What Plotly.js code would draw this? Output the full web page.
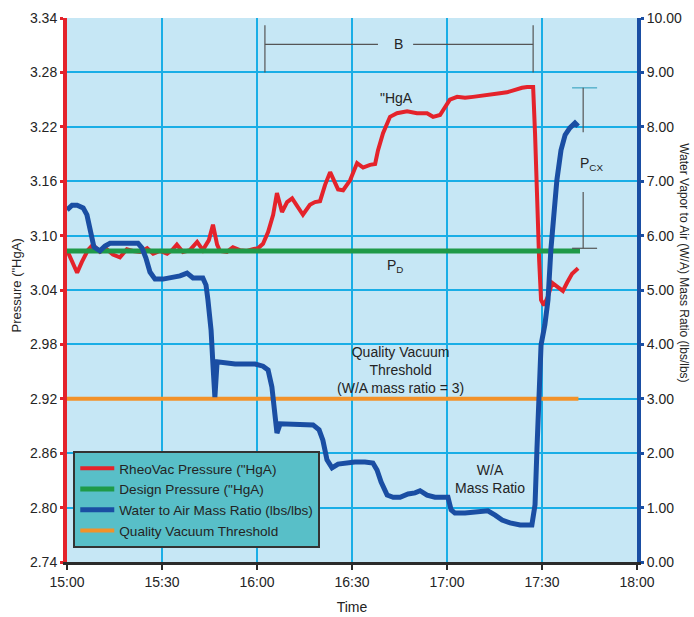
<!DOCTYPE html>
<html>
<head>
<meta charset="utf-8">
<script src="https://cdn.plot.ly/plotly-3.0.1.min.js"></script>
<style>
html,body{margin:0;padding:0;background:#fff;}
#chart{width:694px;height:617px;}
</style>
</head>
<body>
<div id="chart"></div>
<script>
// ---- Data (minutes after 15:00) ----
var pressureTime = [0,1.6,3.2,4.7,6.6,8.2,10.4,12.6,14.5,16.7,18.9,20.8,23.1,25.3,27.2,29.4,31.6,33.2,34.7,36.6,38.8,41.1,42.9,44.8,46.1,47.4,48.3,50.5,52.4,54.6,56.8,58.7,60.3,61.9,63.5,65.1,66.3,67.9,69.5,71.1,72.6,74.5,76.7,78.3,79.9,81.5,83.1,84.3,85.6,87.2,89.4,91.6,93.5,95.7,97.3,98.2,99.8,102.0,104.2,107.4,110.5,113.7,115.6,117.8,119.4,120.9,123.2,125.7,128.2,131.1,133.6,136.7,138.9,141.5,143.7,145.3,147.2,147.8,148.4,149.1,149.7,150.6,151.9,153.2,155.1,156.6,157.9,159.5,161.4];
var pressureVal = [3.084,3.071,3.059,3.071,3.084,3.090,3.082,3.085,3.079,3.076,3.085,3.083,3.082,3.086,3.080,3.083,3.080,3.084,3.090,3.082,3.084,3.093,3.084,3.095,3.112,3.090,3.083,3.082,3.087,3.084,3.083,3.085,3.086,3.091,3.104,3.123,3.147,3.126,3.137,3.141,3.133,3.123,3.134,3.137,3.138,3.156,3.170,3.161,3.151,3.150,3.161,3.180,3.175,3.178,3.179,3.194,3.213,3.231,3.235,3.237,3.235,3.235,3.231,3.233,3.241,3.250,3.253,3.252,3.253,3.254,3.255,3.257,3.258,3.261,3.263,3.264,3.264,3.213,3.139,3.073,3.029,3.023,3.033,3.048,3.043,3.039,3.048,3.058,3.064];

var designTime = [0,162];
var designVal = [3.083,3.083];

var ratioTime = [0,1.6,3.2,5.1,6.3,7.3,8.5,10.4,12.0,13.6,16.7,19.9,22.4,23.7,24.9,26.2,27.8,30.3,32.5,35.7,37.9,39.8,42.9,43.9,44.5,45.5,46.1,46.7,47.4,49.9,53.1,56.2,59.4,61.9,63.5,64.7,65.7,66.3,67.3,69.5,72.0,75.2,77.7,79.6,80.8,82.1,83.7,85.6,87.8,90.9,94.1,96.6,97.9,99.2,101.1,103.0,105.2,107.7,109.9,111.5,113.7,116.2,118.7,120.3,121.3,122.5,125.7,128.8,132.9,135.2,137.4,139.9,143.1,146.8,147.8,148.4,149.1,149.7,150.9,151.9,152.8,153.8,154.7,156.0,157.3,158.8,160.4,161.4];
var ratioVal = [6.47,6.56,6.56,6.51,6.38,6.14,5.79,5.72,5.81,5.86,5.86,5.88,5.86,5.77,5.59,5.33,5.20,5.20,5.22,5.26,5.31,5.22,5.22,5.09,4.82,4.26,3.62,3.03,3.68,3.66,3.64,3.64,3.64,3.60,3.53,3.22,2.79,2.37,2.54,2.54,2.52,2.54,2.52,2.43,2.24,1.88,1.73,1.80,1.82,1.84,1.84,1.82,1.69,1.47,1.23,1.19,1.19,1.25,1.27,1.31,1.23,1.19,1.19,1.19,0.96,0.90,0.90,0.92,0.94,0.86,0.77,0.72,0.68,0.68,1.05,2.06,3.16,3.99,4.36,4.82,5.74,6.47,7.02,7.57,7.85,7.98,8.07,8.01];

var thresholdTime = [0,161.5];
var thresholdVal = [3,3];

var xTickVals = [0,30,60,90,120,150,180];
var xTickText = ["15:00","15:30","16:00","16:30","17:00","17:30","18:00"];
var leftTickVals = [2.74,2.80,2.86,2.92,2.98,3.04,3.10,3.16,3.22,3.28,3.34];
var rightTickVals = [0,1,2,3,4,5,6,7,8,9,10];

var seriesNames = ['RheoVac Pressure ("HgA)','Design Pressure ("HgA)','Water to Air Mass Ratio (lbs/lbs)','Quality Vacuum Threshold'];

var FONT = '"Liberation Sans", Arial, sans-serif';
var TXT = '#242424';
var RED = '#e4232b', GREEN = '#1f9a48', BLUE = '#1a4ea3', ORANGE = '#f39229';
var GRID = '#19aee6', BRACKET = '#555555';

var traces = [
  {x: pressureTime, y: pressureVal, name: seriesNames[0], type:'scatter', mode:'lines',
   line:{color:RED, width:4}, yaxis:'y', legendrank:1},
  {x: designTime, y: designVal, name: seriesNames[1], type:'scatter', mode:'lines',
   line:{color:GREEN, width:5}, yaxis:'y', legendrank:2},
  {x: thresholdTime, y: thresholdVal, name: seriesNames[3], type:'scatter', mode:'lines',
   line:{color:ORANGE, width:4}, yaxis:'y2', legendrank:4},
  {x: ratioTime, y: ratioVal, name: seriesNames[2], type:'scatter', mode:'lines',
   line:{color:BLUE, width:5}, yaxis:'y2', legendrank:3}
];

var annFont = {family: FONT, size: 14, color: TXT};
var layout = {
  width: 694, height: 617,
  margin: {l:67, r:57, t:18, b:55},
  paper_bgcolor: '#ffffff',
  plot_bgcolor: '#c6e7f5',
  showlegend: true,
  legend: {x:0.011, y:0.204, xanchor:'left', yanchor:'top',
    bgcolor:'#58bfc8', bordercolor:'#333333', borderwidth:2,
    font:{family: FONT, size:13.6, color:TXT}, itemwidth:34, tracegroupgap:0},
  xaxis: {range:[0,180], tickvals:xTickVals, ticktext:xTickText,
    showgrid:true, gridcolor:GRID, gridwidth:2, zeroline:false,
    showline:true, linecolor:'#2b2b2b', linewidth:3,
    ticks:'outside', ticklen:5, tickwidth:2, tickcolor:'#2b2b2b',
    tickfont:{family:FONT, size:14, color:TXT},
    title:{text:'Time', font:{family:FONT, size:14, color:TXT}, standoff:14}},
  yaxis: {range:[2.74,3.34], tickvals:leftTickVals, tickformat:'.2f',
    showgrid:true, gridcolor:GRID, gridwidth:2, zeroline:false,
    showline:true, linecolor:RED, linewidth:4,
    ticks:'outside', ticklen:3, tickwidth:3, tickcolor:RED,
    tickfont:{family:FONT, size:14, color:TXT}},
  yaxis2: {range:[0,10], tickvals:rightTickVals, tickformat:'.2f',
    overlaying:'y', side:'right', showgrid:false, zeroline:false,
    showline:true, linecolor:BLUE, linewidth:4,
    ticks:'outside', ticklen:3, tickwidth:3, tickcolor:BLUE,
    tickfont:{family:FONT, size:14, color:TXT}},
  shapes: [
    // B bracket
    {type:'line', xref:'x', yref:'y', x0:62.5, x1:62.5, y0:3.332, y1:3.280, line:{color:BRACKET, width:1.2}},
    {type:'line', xref:'x', yref:'y', x0:62.5, x1:98.2, y0:3.311, y1:3.311, line:{color:BRACKET, width:1.2}},
    {type:'line', xref:'x', yref:'y', x0:109.3, x1:147.2, y0:3.311, y1:3.311, line:{color:BRACKET, width:1.2}},
    {type:'line', xref:'x', yref:'y', x0:147.2, x1:147.2, y0:3.332, y1:3.280, line:{color:BRACKET, width:1.2}},
    // P_CX bracket
    {type:'line', xref:'x', yref:'y', x0:159.5, x1:167.4, y0:3.263, y1:3.263, line:{color:'#5ab4cc', width:1.5}},
    {type:'line', xref:'x', yref:'y', x0:163, x1:163, y0:3.263, y1:3.214, line:{color:BRACKET, width:1.2}},
    {type:'line', xref:'x', yref:'y', x0:163, x1:163, y0:3.148, y1:3.086, line:{color:BRACKET, width:1.2}},
    {type:'line', xref:'x', yref:'y', x0:159.5, x1:167.4, y0:3.086, y1:3.086, line:{color:BRACKET, width:1.2}}
  ],
  annotations: [
    {xref:'x', yref:'y', x:104.8, y:3.311, text:'B', showarrow:false, font:annFont},
    {xref:'x', yref:'y', x:104.2, y:3.252, text:'"HgA', showarrow:false, font:annFont},
    {xref:'x', yref:'y', x:165.5, y:3.179, text:'P<sub>CX</sub>', showarrow:false, font:annFont},
    {xref:'x', yref:'y', x:103.6, y:3.066, text:'P<sub>D</sub>', showarrow:false, font:annFont},
    {xref:'x', yref:'y', x:105.2, y:2.952, text:'Quality Vacuum<br>Threshold<br>(W/A mass ratio = 3)', showarrow:false, font:annFont},
    {xref:'x', yref:'y', x:133.6, y:2.832, text:'W/A<br>Mass Ratio', showarrow:false, font:annFont},
    {xref:'paper', yref:'paper', x:-0.088, y:0.508, xanchor:'center', yanchor:'middle',
     text:'Pressure ("HgA)', textangle:-90, showarrow:false, font:{family:FONT, size:13, color:TXT}},
    {xref:'paper', yref:'paper', x:1.0825, y:0.551, xanchor:'center', yanchor:'middle',
     text:'Water Vapor to Air (W/A) Mass Ratio (lbs/lbs)', textangle:90, showarrow:false, font:{family:FONT, size:12, color:TXT}}
  ]
};

Plotly.newPlot('chart', traces, layout, {displayModeBar:false, staticPlot:true});
</script>
</body>
</html>
